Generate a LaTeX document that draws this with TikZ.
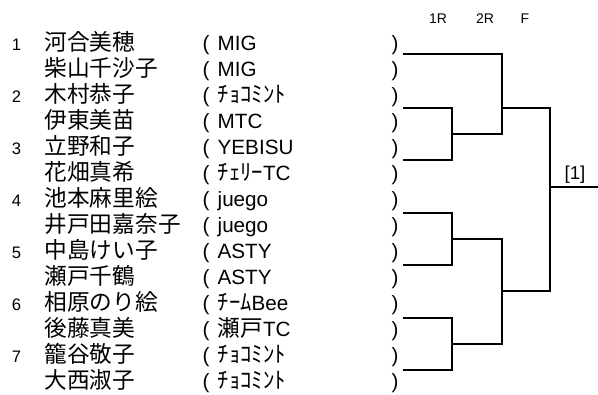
\documentclass[tikz,border=0pt]{standalone}
\usepackage{fontspec}
\setmainfont{Liberation Sans}
\newfontfamily\jpfont{Noto Sans CJK JP}
\newcommand{\jp}[1]{{\jpfont\fontsize{17}{19}\selectfont #1}}
\usetikzlibrary{matrix}

\begin{document}
\begin{tikzpicture}[x=0.75pt,y=-0.75pt,line width=1.5pt]
\useasboundingbox (0,0) rectangle (598,394);
\matrix (m)[matrix of nodes, matrix anchor=north west, inner sep=0pt, outer sep=0pt, row sep=0pt, column sep=0pt,
 nodes={inner sep=0pt, outer sep=0pt, anchor=base west, align=left, text height=12.75pt, text depth=6.75pt},
 column 1/.style={nodes={text width=24.5pt, font=\fontsize{12.5}{14}\selectfont}},
 column 2/.style={nodes={text width=118.5pt, font=\jpfont\fontsize{17}{19}\selectfont}},
 column 3/.style={nodes={text width=11.25pt, font=\fontsize{15.5}{17}\selectfont}},
 column 4/.style={nodes={text width=130.5pt, font=\fontsize{15.5}{17}\selectfont}},
 column 5/.style={nodes={font=\fontsize{15.5}{17}\selectfont}}] at (12,33.5) {
1 & 河合美穂 & ( & MIG & )\\
 & 柴山千沙子 & ( & MIG & )\\
2 & 木村恭子 & ( & \jp{ﾁｮｺﾐﾝﾄ} & )\\
 & 伊東美苗 & ( & MTC & )\\
3 & 立野和子 & ( & YEBISU & )\\
 & 花畑真希 & ( & \jp{ﾁｪﾘｰ}TC & )\\
4 & 池本麻里絵 & ( & juego & )\\
 & 井戸田嘉奈子 & ( & juego & )\\
5 & 中島けい子 & ( & ASTY & )\\
 & 瀬戸千鶴 & ( & ASTY & )\\
6 & 相原のり絵 & ( & \jp{ﾁｰﾑ}Bee & )\\
 & 後藤真美 & ( & \jp{瀬戸}TC & )\\
7 & 籠谷敬子 & ( & \jp{ﾁｮｺﾐﾝﾄ} & )\\
 & 大西淑子 & ( & \jp{ﾁｮｺﾐﾝﾄ} & )\\
};

\node[font=\fontsize{10.5}{12}\selectfont] (h1) at (438,19) {1R};
\node[font=\fontsize{10.5}{12}\selectfont] (h2) at (485,19) {2R};
\node[font=\fontsize{10.5}{12}\selectfont] (h3) at (525,19) {F};

\coordinate (t1) at (403,54);
\coordinate (t2) at (403,108);
\coordinate (t3) at (403,160);
\coordinate (t4) at (403,213);
\coordinate (t5) at (403,265);
\coordinate (t6) at (403,318);
\coordinate (t7) at (403,370);
\coordinate (q1) at (452,134);
\coordinate (q2) at (452,239);
\coordinate (q3) at (452,344);
\coordinate (s1) at (502,108);
\coordinate (s2) at (502,291);
\coordinate (f) at (550,187);
\coordinate (w) at (598,187);
\node[font=\fontsize{14}{16}\selectfont] (win) at (575,175) {[1]};

\draw (t2) -| (q1) |- (t3);
\draw (t4) -| (q2) |- (t5);
\draw (t6) -| (q3) |- (t7);
\draw (t1) -| (s1) |- (q1);
\draw (q2) -| (s2) |- (q3);
\draw (s1) -| (f) |- (s2);
\draw (f) -- (w);
\end{tikzpicture}
\end{document}
